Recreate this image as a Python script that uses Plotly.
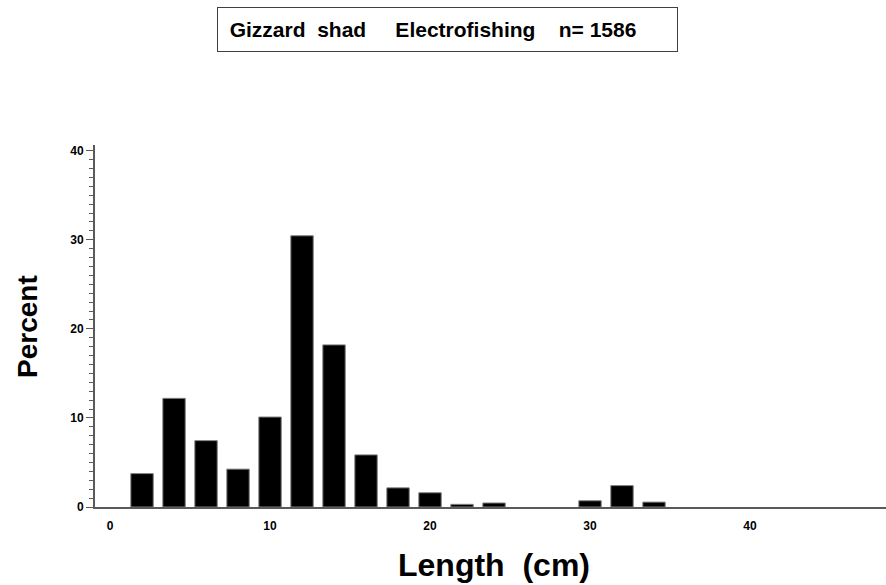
import plotly.graph_objects as go

# Data
lengths = [2, 4, 6, 8, 10, 12, 14, 16, 18, 20, 22, 24, 26, 28, 30, 32, 34]
percent = [3.75, 12.2, 7.45, 4.25, 10.1, 30.45, 18.2, 5.85, 2.15, 1.6, 0.3, 0.45, 0.0, 0.0, 0.7, 2.4, 0.55]
x_ticks = [0, 10, 20, 30, 40]
y_ticks = [0, 10, 20, 30, 40]
NB = "\u00a0"
title_text = (NB * 2 + "Gizzard" + NB * 2 + "shad" + NB * 5 + "Electrofishing"
              + NB * 4 + "n=" + NB + "1586")

FONT = "Liberation Sans"
AX = "#5a5a5a"

fig = go.Figure()
fig.add_trace(go.Bar(
    x=lengths, y=percent,
    marker=dict(color="black",
                line=dict(color="#808080", width=[1 if v > 0 else 0 for v in percent])),
    hoverinfo="x+y",
))

W, H = 886, 585
L, R, T, B = 95, 0, 145, 78

fig.update_layout(
    width=W, height=H,
    margin=dict(l=L, r=R, t=T, b=B, autoexpand=False),
    paper_bgcolor="white", plot_bgcolor="white",
    bargap=0.3,
    showlegend=False,
    font=dict(family=FONT, color="black"),
    xaxis=dict(
        range=[-0.94, 48.5],
        tickvals=x_ticks, ticktext=[str(v) for v in x_ticks],
        ticks="", showgrid=False, zeroline=False,
        showline=True, linecolor=AX, linewidth=2,
        tickfont=dict(family=FONT, size=12, weight="bold", color="black"),
        ticklabelstandoff=7,
        fixedrange=True,
    ),
    yaxis=dict(
        range=[0, 40.64],
        tickvals=y_ticks, ticktext=[str(v) for v in y_ticks],
        ticks="outside", ticklen=7, tickwidth=1, tickcolor=AX,
        minor=dict(dtick=1, ticks="outside", ticklen=4, tickwidth=1, tickcolor=AX),
        showgrid=False, zeroline=False,
        showline=True, linecolor=AX, linewidth=2,
        tickfont=dict(family=FONT, size=12, weight="bold", color="black"),
        fixedrange=True,
    ),
)

plot_h = H - T - B
plot_w = W - L - R

def px_to_paper_x(px):
    return (px - L) / plot_w

def px_to_paper_y(py):
    return (H - B - py) / plot_h

# Title box
fig.add_annotation(
    text=title_text,
    xref="paper", yref="paper",
    x=px_to_paper_x(447.5), y=px_to_paper_y(29.5),
    xanchor="center", yanchor="middle",
    showarrow=False,
    width=459, height=43, align="left",
    borderwidth=1, bordercolor="#404040", borderpad=0,
    bgcolor="white",
    font=dict(family=FONT, size=21, weight="bold", color="black"),
)

# Axis titles
fig.add_annotation(
    text="Length\u00a0\u00a0(cm)",
    xref="paper", yref="paper",
    x=px_to_paper_x(494), y=px_to_paper_y(565),
    xanchor="center", yanchor="middle", showarrow=False,
    font=dict(family=FONT, size=32, weight="bold", color="black"),
)
fig.add_annotation(
    text="Percent",
    xref="paper", yref="paper",
    x=px_to_paper_x(27), y=px_to_paper_y(327),
    xanchor="center", yanchor="middle", showarrow=False, textangle=-90,
    font=dict(family=FONT, size=28, weight="bold", color="black"),
)

fig.write_html("out.html", config={"displayModeBar": False},
               post_script="document.body.style.margin='0';document.body.style.overflow='hidden';")
